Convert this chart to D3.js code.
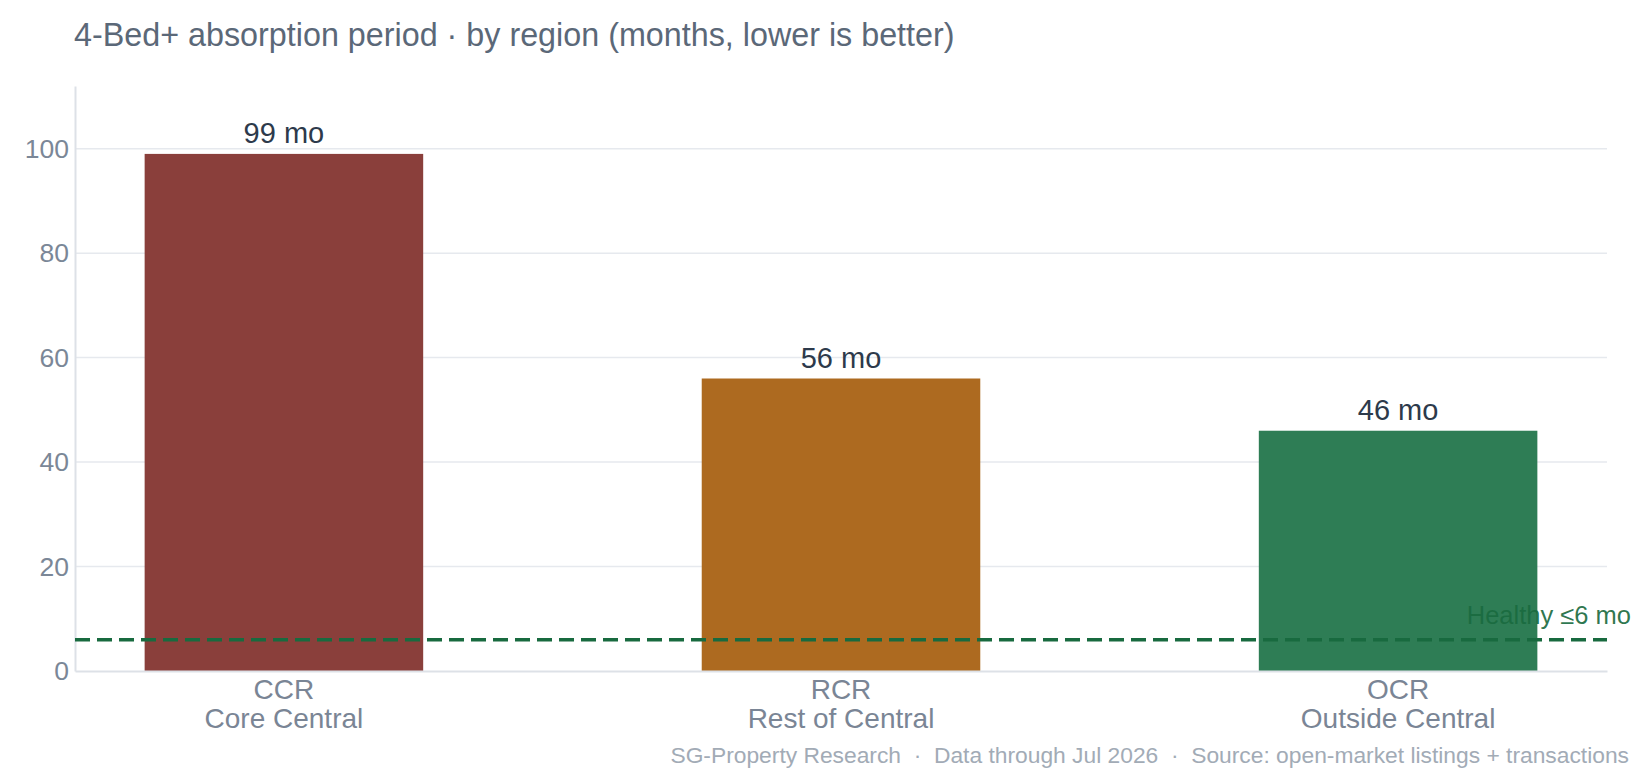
<!DOCTYPE html>
<html>
<head>
<meta charset="utf-8">
<script src="https://cdn.jsdelivr.net/npm/d3@7"></script>
<style>
  body { margin: 0; background: #fff; }
  text { font-family: "Liberation Sans", Arial, sans-serif; }
</style>
</head>
<body>
<script>
const regions = ["CCR", "RCR", "OCR"];
const regionNames = ["Core Central", "Rest of Central", "Outside Central"];
const months = [99, 56, 46];
const barColors = ["#8a3f3b", "#ad6a20", "#2e7d55"];
const yTicks = [0, 20, 40, 60, 80, 100];
const healthy = 6;

const width = 1650;
const height = 780;
const margin = {left: 75, top: 86, right: 43, bottom: 109};
const innerWidth = width - margin.left - margin.right;
const innerHeight = height - margin.top - margin.bottom;

const svg = d3.select('body').append('svg')
  .attr('width', width)
  .attr('height', height);

svg.append('text')
  .attr('x', 74)
  .attr('y', 46)
  .attr('fill', '#5b6878')
  .style('font-size', '32.3px')
  .text('4-Bed+ absorption period · by region (months, lower is better)');

const g = svg.append('g')
  .attr('transform', `translate(${margin.left},${margin.top})`);

const x = d3.scaleBand()
  .domain(regions)
  .range([0, innerWidth])
  .paddingInner(0.5)
  .paddingOuter(0.125);

const y = d3.scaleLinear()
  .domain([0, 112])
  .range([innerHeight, 0]);

// gridlines
g.append('g').selectAll('line')
  .data(yTicks.filter(d => d > 0))
  .join('line')
    .attr('x1', 0)
    .attr('x2', innerWidth)
    .attr('y1', d => y(d))
    .attr('y2', d => y(d))
    .attr('stroke', '#e6e9ee')
    .attr('stroke-width', 1.5);

// y axis
const yAxis = d3.axisLeft(y).tickValues(yTicks).tickSize(0).tickPadding(6);
const yAxisG = g.append('g').call(yAxis);
yAxisG.select('.domain').attr('stroke', '#dde1e7').attr('stroke-width', 2);
yAxisG.selectAll('text')
  .attr('fill', '#7b8797')
  .style('font-size', '26.5px')
  .style('font-family', '"Liberation Sans", Arial, sans-serif');

// bars
g.append('g').selectAll('rect')
  .data(regions)
  .join('rect')
    .attr('x', d => x(d))
    .attr('y', (d, i) => y(months[i]))
    .attr('width', x.bandwidth())
    .attr('height', (d, i) => y(0) - y(months[i]))
    .attr('fill', (d, i) => barColors[i]);

// value labels
g.append('g').selectAll('text')
  .data(regions)
  .join('text')
    .attr('x', d => x(d) + x.bandwidth() / 2)
    .attr('y', (d, i) => y(months[i]) - 11)
    .attr('text-anchor', 'middle')
    .attr('fill', '#2d3a4b')
    .style('font-size', '29px')
    .text((d, i) => months[i] + ' mo');

// healthy threshold line
g.append('line')
  .attr('x1', 0)
  .attr('x2', innerWidth)
  .attr('y1', y(healthy))
  .attr('y2', y(healthy))
  .attr('stroke', '#186a3f')
  .attr('stroke-width', 3.5)
  .attr('stroke-dasharray', '15,7');

g.append('text')
  .attr('x', 1556)
  .attr('y', y(healthy) - 16)
  .attr('text-anchor', 'end')
  .attr('fill', '#1a6b40')
  .attr('fill-opacity', 0.92)
  .style('font-size', '25.5px')
  .text('Healthy ≤6 mo');

// x axis
const xAxis = d3.axisBottom(x).tickSize(0).tickFormat(() => '');
const xAxisG = g.append('g')
  .attr('transform', `translate(0,${innerHeight})`)
  .call(xAxis);
xAxisG.select('.domain').attr('stroke', '#dde1e7').attr('stroke-width', 2);

const catLabels = g.append('g').selectAll('text')
  .data(regions)
  .join('text')
    .attr('x', d => x(d) + x.bandwidth() / 2)
    .attr('y', innerHeight + 28)
    .attr('text-anchor', 'middle')
    .attr('fill', '#7a8595')
    .style('font-size', '28px');
catLabels.append('tspan')
  .attr('x', d => x(d) + x.bandwidth() / 2)
  .text(d => d);
catLabels.append('tspan')
  .attr('x', d => x(d) + x.bandwidth() / 2)
  .attr('dy', 29)
  .text((d, i) => regionNames[i]);

svg.append('text')
  .attr('x', 1629)
  .attr('y', 763)
  .attr('text-anchor', 'end')
  .attr('fill', '#a2abb6')
  .style('font-size', '22.8px')
  .style('white-space', 'pre')
  .text('SG-Property Research  ·  Data through Jul 2026  ·  Source: open-market listings + transactions');
</script>
</body>
</html>
